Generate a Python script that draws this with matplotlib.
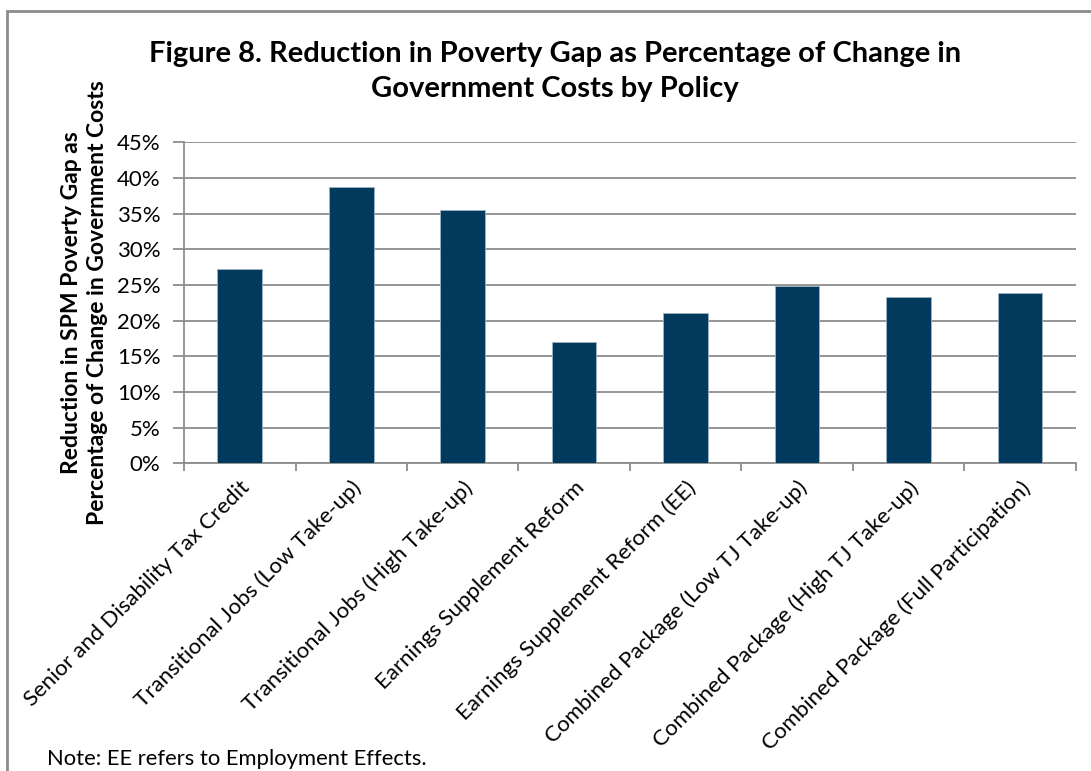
import matplotlib.pyplot as plt
from matplotlib.patches import Rectangle
import numpy as np

policies = [
    "Senior and Disability Tax Credit",
    "Transitional Jobs (Low Take-up)",
    "Transitional Jobs (High Take-up)",
    "Earnings Supplement Reform",
    "Earnings Supplement Reform (EE)",
    "Combined Package (Low TJ Take-up)",
    "Combined Package (High TJ Take-up)",
    "Combined Package (Full Participation)",
]
reduction_pct = [27.3, 38.7, 35.5, 17.0, 21.1, 24.8, 23.3, 23.9]

plt.rcParams['font.family'] = ['Lato', 'DejaVu Sans']

fig = plt.figure(figsize=(10.91, 7.71), dpi=100)
ax = fig.add_axes([0.1687, 0.399, 0.8173, 0.4164])

x = np.arange(len(policies))
ax.bar(x, reduction_pct, width=0.4, color='#023A5D', edgecolor='#9fb4c6', linewidth=0.6, zorder=3)

ax.set_xlim(-0.5, len(policies) - 0.5)
ax.set_ylim(0, 45)
ax.set_yticks(np.arange(0, 46, 5))
ax.set_yticklabels([f"{v}%" for v in range(0, 46, 5)], fontsize=16)
ax.yaxis.grid(True, color='#8c8c8c', linewidth=1.3, zorder=0)

ax.set_xticks(np.arange(-0.5, len(policies), 1.0), minor=False)
ax.set_xticklabels([])
ax.set_xticks(x, minor=True)
ax.set_xticklabels(policies, minor=True, rotation=45, ha='right', rotation_mode='anchor', fontsize=16)
ax.tick_params(axis='x', which='minor', length=0, pad=10)
ax.tick_params(axis='x', which='major', length=6, width=1.3, color='#8c8c8c', direction='out')
ax.tick_params(axis='y', length=8, width=1.3, color='#8c8c8c', pad=9)

for side in ['top', 'right']:
    ax.spines[side].set_visible(False)
for side in ['left', 'bottom']:
    ax.spines[side].set_color('#8c8c8c')
    ax.spines[side].set_linewidth(1.3)

ax.set_ylabel("Reduction in SPM Poverty Gap as\nPercentage of Change in Government Costs",
              fontsize=16.5, fontweight='bold', labelpad=6, linespacing=1.3)

fig.text(0.509, 0.907, "Figure 8. Reduction in Poverty Gap as Percentage of Change in\nGovernment Costs by Policy",
         ha='center', va='center', fontsize=21, fontweight='bold', linespacing=1.45)

fig.text(0.043, 0.008, "Note: EE refers to Employment Effects.", fontsize=15.8, va='baseline')

fig.patches.append(Rectangle((7 / 1091, -0.1), 1.2, 1.1 - 11 / 771, transform=fig.transFigure,
                             fill=False, edgecolor='#8c8c8c', linewidth=2))

fig.savefig("out.png", dpi=100)
